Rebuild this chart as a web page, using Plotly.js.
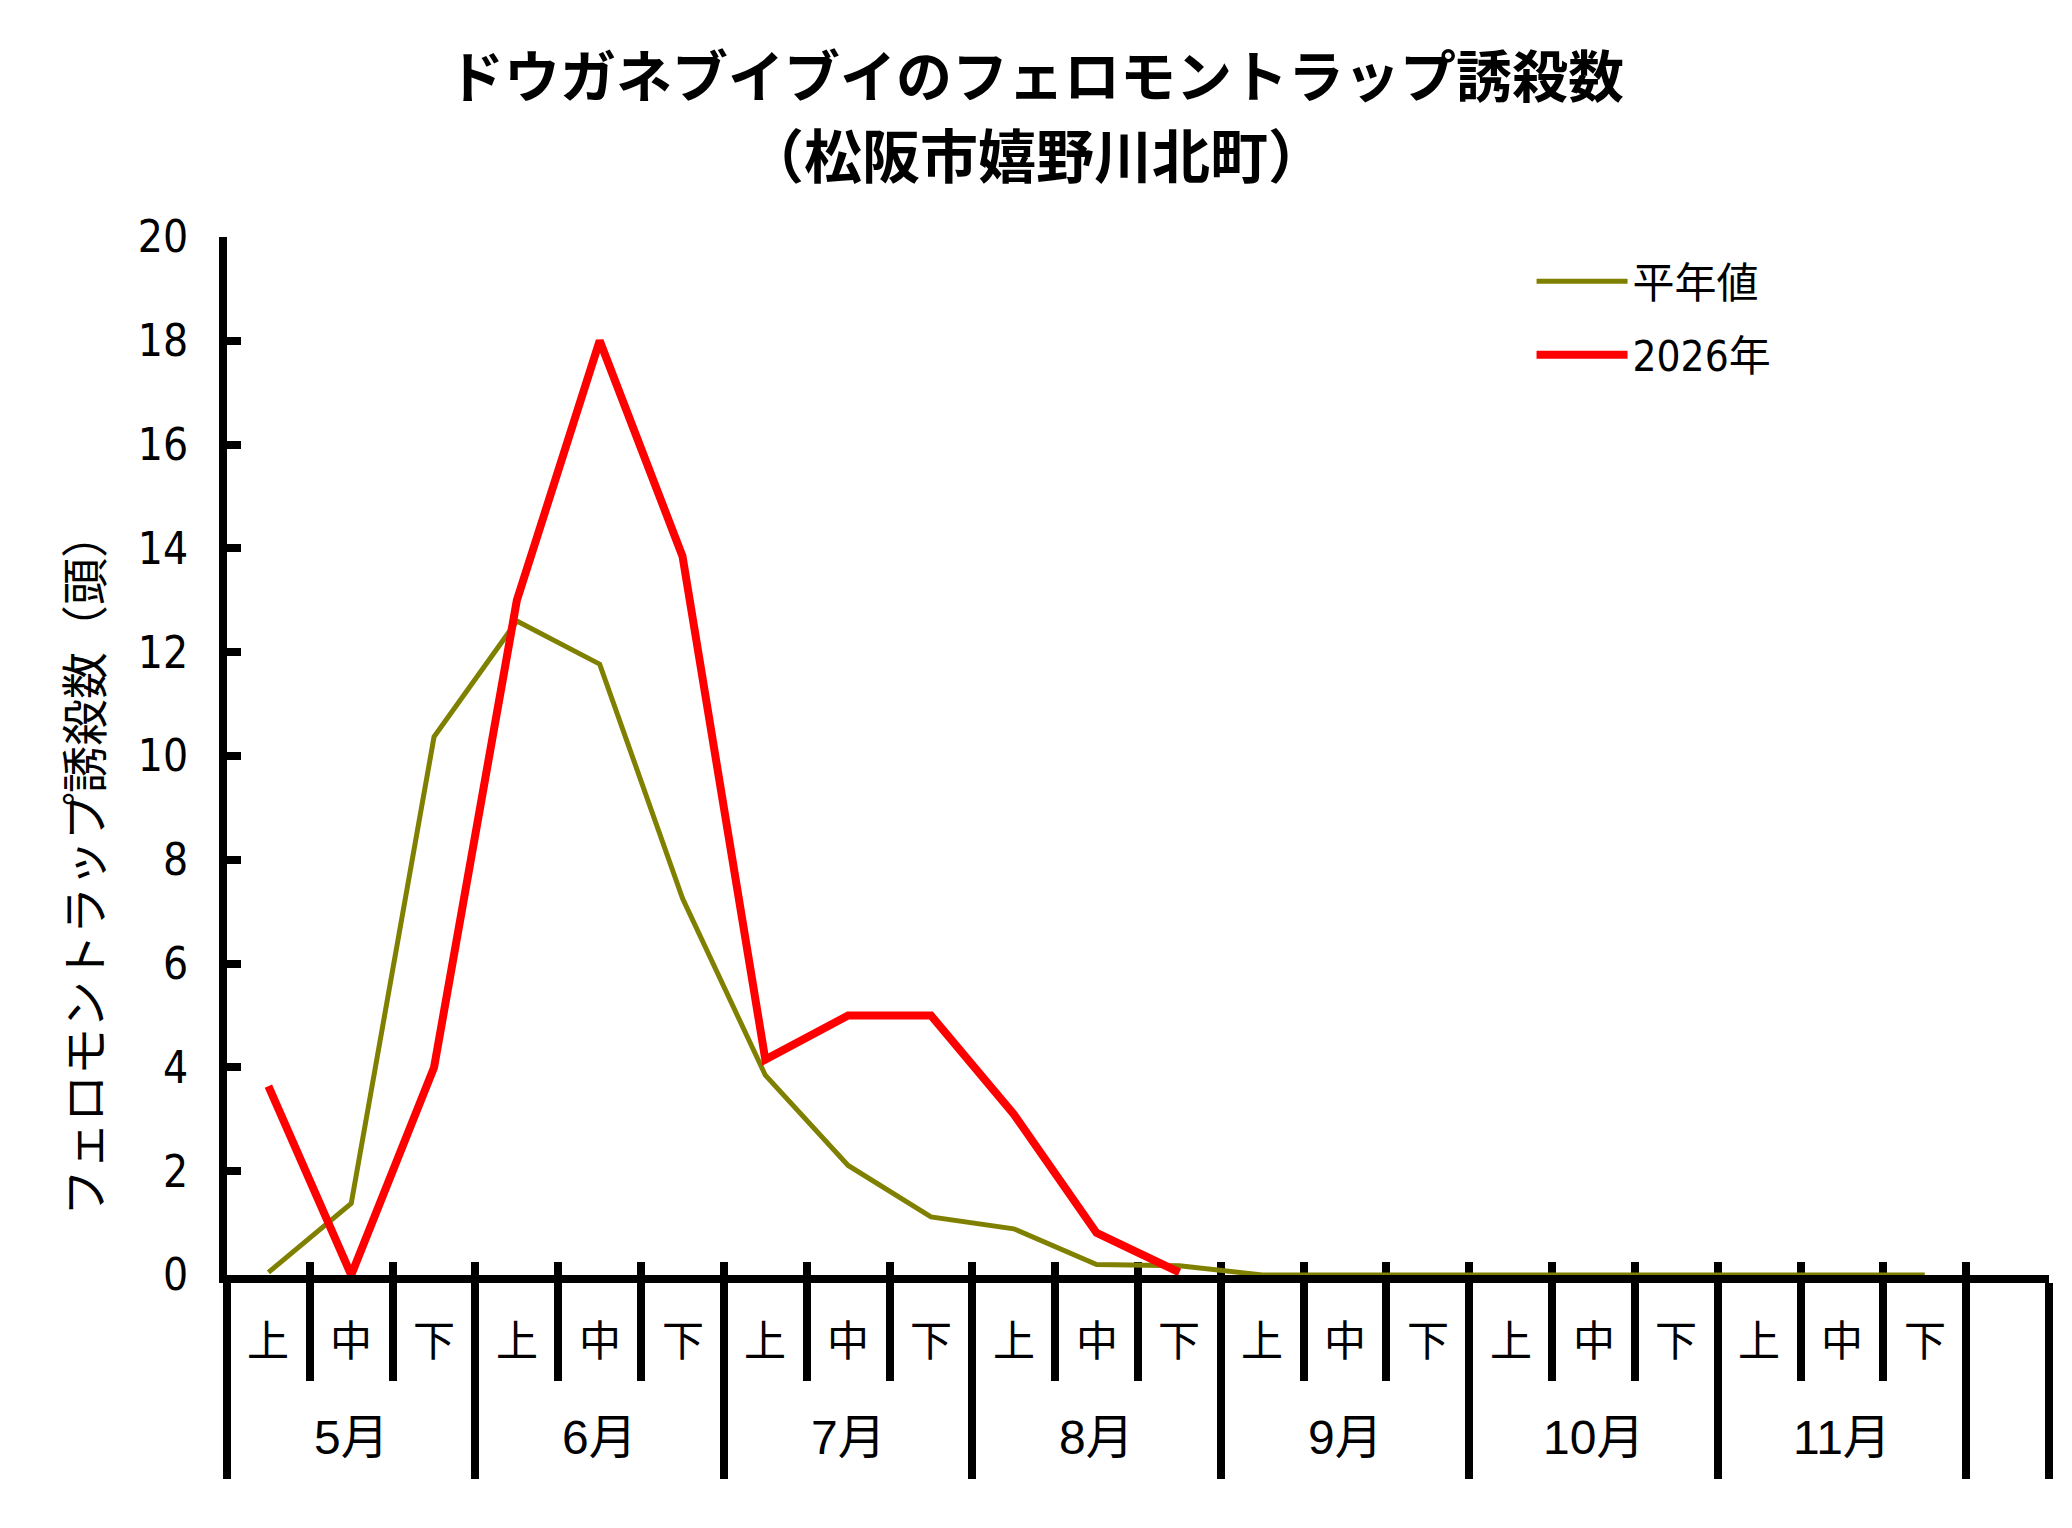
<!DOCTYPE html>
<html>
<head>
<meta charset="utf-8">
<script src="https://cdn.plot.ly/plotly-3.0.1.min.js"></script>
<style>
html,body{margin:0;padding:0;background:#fff;}
#chart{width:2072px;height:1528px;}
.ytick text, .legendtext { font-stretch: condensed !important; }
</style>
</head>
<body>
<div id="chart"></div>
<script>
// ---- data ----
const months = ['5月', '6月', '7月', '8月', '9月', '10月', '11月'];
const subPeriods = ['上', '中', '下'];
const normalName = '平年値';
const normalValues = [0.05, 1.38, 10.37, 12.6, 11.77, 7.26, 3.85, 2.11, 1.12, 0.89, 0.2, 0.18,
                      0, 0, 0, 0, 0, 0, 0, 0, 0];
const yearName = '2026年';
const yearValues = [3.64, 0, 4.0, 13.0, 18.0, 13.85, 4.15, 5.0, 5.0, 3.1, 0.81, 0.05];
const yTicks = [0, 2, 4, 6, 8, 10, 12, 14, 16, 18, 20];
const titleLine1 = 'ドウガネブイブイのフェロモントラップ誘殺数';
const titleLine2 = '（松阪市嬉野川北町）';
const yTitle = 'フェロモントラップ誘殺数（頭）';

// ---- derived ----
const nSlots = months.length * subPeriods.length + 1; // one empty trailing slot
const slotCenter = i => i + 0.5;
const xNormal = normalValues.map((_, i) => slotCenter(i));
const xYear = yearValues.map((_, i) => slotCenter(i));
const boundaries = Array.from({length: nSlots + 1}, (_, i) => i);
const monthBounds = months.map((_, m) => m * subPeriods.length).concat([months.length * subPeriods.length, nSlots]);

const cjk = '"Noto Sans CJK JP", "Noto Sans", sans-serif';
const narrow = '"DejaVu Sans", "Noto Sans CJK JP", sans-serif';

const traces = [
  {x: xNormal, y: normalValues, name: normalName, type: 'scatter', mode: 'lines', xaxis: 'x', yaxis: 'y',
   line: {color: '#808000', width: 5}, cliponaxis: false, legendgroup: 'a'},
  {x: xYear, y: yearValues, name: yearName, type: 'scatter', mode: 'lines', xaxis: 'x2', yaxis: 'y',
   line: {color: '#ff0000', width: 8}, cliponaxis: false, legendgroup: 'b'}
];

const annotations = [];
for (let i = 0; i < months.length * subPeriods.length; i++) {
  annotations.push({x: slotCenter(i), y: 0, xref: 'x', yref: 'y', yshift: -62,
    text: subPeriods[i % subPeriods.length], showarrow: false, xanchor: 'center', yanchor: 'middle',
    font: {family: cjk, size: 42, color: '#000'}});
}
months.forEach((m, k) => {
  annotations.push({x: k * subPeriods.length + subPeriods.length / 2, y: 0, xref: 'x', yref: 'y', yshift: -162,
    text: m, showarrow: false, xanchor: 'center', yanchor: 'middle',
    font: {family: '"Liberation Sans", ' + cjk, size: 48, color: '#000'}});
});
annotations.push({x: 0.444, y: 1.081, xref: 'paper', yref: 'paper', text: titleLine2, showarrow: false,
  xanchor: 'center', yanchor: 'middle', font: {family: cjk, size: 58, weight: 'bold', color: '#000'}});
annotations.push({x: 0, y: 0.396, xref: 'paper', yref: 'paper', xshift: -145, text: yTitle, textangle: -90,
  showarrow: false, xanchor: 'center', yanchor: 'middle', font: {family: cjk, size: 47, color: '#000'}});

const baseX = {range: [0, nSlots], showgrid: false, zeroline: false, showticklabels: false,
  tickmode: 'array', tickcolor: '#000', tickwidth: 8, layer: 'below traces', fixedrange: true};

const layout = {
  width: 2072, height: 1528,
  margin: {l: 227, r: 23, t: 237, b: 253},
  paper_bgcolor: '#fff', plot_bgcolor: '#fff',
  title: {text: titleLine1, x: 0.5, xref: 'container', xanchor: 'center', y: 1 - 77 / 1528, yref: 'container', yanchor: 'middle',
    font: {family: cjk, size: 56, weight: 'bold', color: '#000'}},
  showlegend: true,
  legend: {x: 0.716, y: 0.99, xanchor: 'left', yanchor: 'top', bgcolor: 'rgba(0,0,0,0)',
    font: {family: narrow, size: 42, color: '#000'}, itemwidth: 91, tracegroupgap: 16},
  xaxis: Object.assign({}, baseX, {showline: true, linewidth: 8, linecolor: '#000',
    tickvals: monthBounds, ticks: 'outside', ticklen: 196,
    minor: {tickmode: 'array', tickvals: boundaries, ticks: 'outside', ticklen: 98, tickwidth: 8, tickcolor: '#000', showgrid: false}}),
  xaxis2: Object.assign({}, baseX, {overlaying: 'x', anchor: 'y', showline: false,
    tickvals: boundaries.slice(1), ticks: 'inside', ticklen: 13}),
  yaxis: {range: [0, 20], tickmode: 'array', tickvals: yTicks, ticks: 'inside', ticklen: 14, tickwidth: 8,
    tickcolor: '#000', showline: true, linewidth: 8, linecolor: '#000', showgrid: false, zeroline: false,
    tickfont: {family: narrow, size: 44, color: '#000'}, ticklabelstandoff: 22, layer: 'below traces', fixedrange: true},
  annotations: annotations
};

Plotly.newPlot('chart', traces, layout, {staticPlot: true, displayModeBar: false});
</script>
</body>
</html>
